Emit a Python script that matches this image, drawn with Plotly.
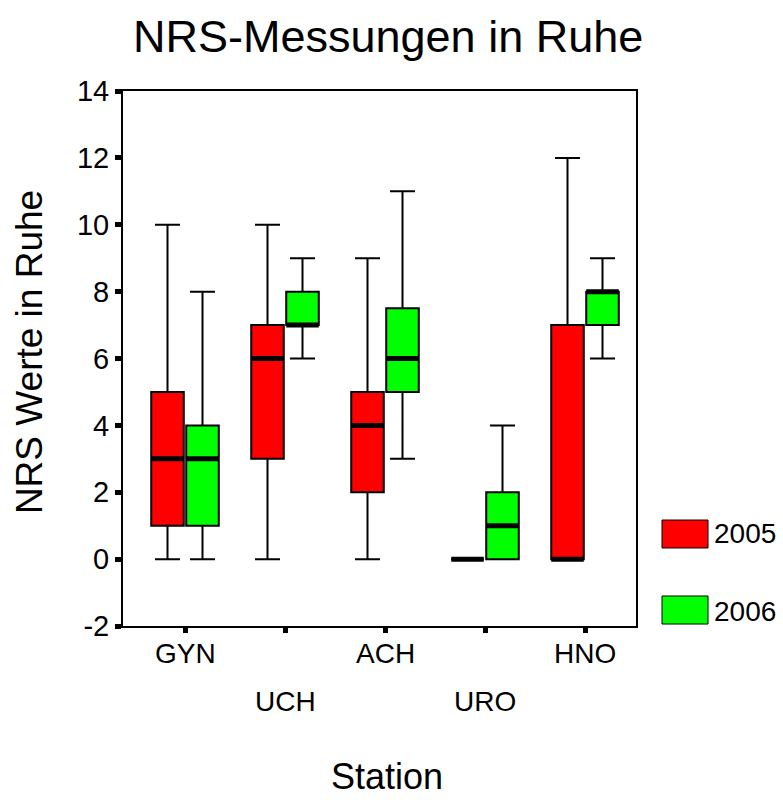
import plotly.graph_objects as go

stations = ["GYN", "UCH", "ACH", "URO", "HNO"]
years = ["2005", "2006"]
colors = {"2005": "#FF0000", "2006": "#00FF00"}

low_2005 = [0, 0, 0, 0, 0]
q1_2005 = [1, 3, 2, 0, 0]
med_2005 = [3, 6, 4, 0, 0]
q3_2005 = [5, 7, 5, 0, 7]
up_2005 = [10, 10, 9, 0, 12]

low_2006 = [0, 6, 3, 0, 6]
q1_2006 = [1, 7, 5, 0, 7]
med_2006 = [3, 7, 6, 1, 8]
q3_2006 = [4, 8, 7.5, 2, 8]
up_2006 = [8, 9, 11, 4, 9]

yticks = [-2, 0, 2, 4, 6, 8, 10, 12, 14]

data = {
    "2005": (low_2005, q1_2005, med_2005, q3_2005, up_2005),
    "2006": (low_2006, q1_2006, med_2006, q3_2006, up_2006),
}

FONT = "Liberation Sans, Arial, sans-serif"

fig = go.Figure()
for yr in years:
    lo, q1, md, q3, up = data[yr]
    fig.add_trace(go.Box(
        x=stations, q1=q1, median=md, q3=q3, lowerfence=lo, upperfence=up,
        name=yr, offsetgroup=yr, fillcolor=colors[yr],
        line=dict(color="black", width=2), whiskerwidth=0.77,
        boxpoints=False, showlegend=False, hoverinfo="skip",
    ))
    # thick median line overlay
    fig.add_trace(go.Box(
        x=stations, q1=md, median=md, q3=md, lowerfence=md, upperfence=md,
        name=yr + " median", offsetgroup=yr, fillcolor="rgba(0,0,0,0)",
        line=dict(color="black", width=5), whiskerwidth=0,
        boxpoints=False, showlegend=False, hoverinfo="skip",
    ))

fig.update_layout(
    width=783, height=800,
    margin=dict(l=123, r=147, t=91, b=174),
    paper_bgcolor="white", plot_bgcolor="white",
    boxmode="group", boxgap=0.3, boxgroupgap=0.07,
    font=dict(family=FONT, color="black"),
    showlegend=False,
)

fig.update_xaxes(
    type="category", categoryorder="array", categoryarray=stations,
    range=[-0.62, 4.51], showgrid=False, zeroline=False,
    showline=True, linecolor="black", linewidth=2, mirror=True,
    ticks="outside", ticklen=5, tickwidth=5, tickcolor="black",
    showticklabels=False,
)
fig.update_yaxes(
    range=[-2, 14], tickvals=yticks, ticktext=[str(v) for v in yticks],
    showgrid=False, zeroline=False,
    showline=True, linecolor="black", linewidth=2, mirror=True,
    ticks="outside", ticklen=6, tickwidth=5, tickcolor="black",
    tickfont=dict(size=29, family=FONT, color="black"),
)

ann = []
# two-row station labels
for i, s in enumerate(stations):
    ann.append(dict(x=s, xref="x", y=-0.0523 if i % 2 == 0 else -0.1402, yref="paper",
                    text=s, showarrow=False, xanchor="center", yanchor="middle",
                    font=dict(size=28, family=FONT, color="black")))
# axis titles and title
ann.append(dict(x=0.5146, xref="paper", y=-0.322, yref="paper", text="Station",
                showarrow=False, xanchor="center", yanchor="bottom", borderpad=0,
                font=dict(size=36, family=FONT, color="black")))
ann.append(dict(x=-0.1832, xref="paper", y=0.512, yref="paper", text="NRS Werte in Ruhe",
                showarrow=False, xanchor="center", yanchor="middle", textangle=-90,
                font=dict(size=37, family=FONT, color="black")))
ann.append(dict(x=0.5166, xref="paper", y=1.1028, yref="paper", text="NRS-Messungen in Ruhe",
                showarrow=False, xanchor="center", yanchor="middle",
                font=dict(size=45, family=FONT, color="black")))

# manual legend
legend_y = {"2005": (0.1458, 0.1981, 0.172), "2006": (0.0037, 0.0561, 0.028)}
shapes = []
for yr in years:
    y0, y1, yt = legend_y[yr]
    shapes.append(dict(type="rect", xref="paper", yref="paper", x0=1.0507, x1=1.1404,
                       y0=y0, y1=y1, fillcolor=colors[yr], line=dict(color="black", width=1)))
    ann.append(dict(x=1.1481, xref="paper", y=yt, yref="paper", text=yr, showarrow=False,
                    xanchor="left", yanchor="middle",
                    font=dict(size=28, family=FONT, color="black")))

fig.update_layout(annotations=ann, shapes=shapes)

fig.write_html("out.html")
